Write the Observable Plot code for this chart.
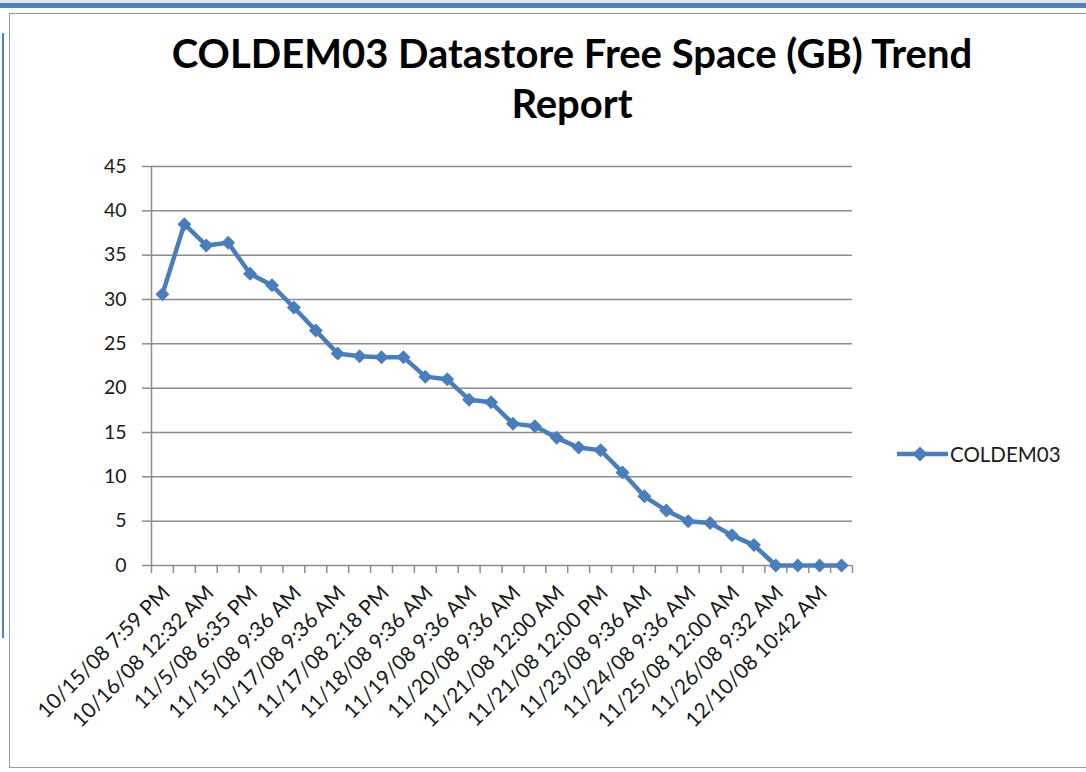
<!DOCTYPE html>
<html><head><meta charset="utf-8">
<script src="https://cdn.jsdelivr.net/npm/d3@7"></script>
<script src="https://cdn.jsdelivr.net/npm/@observablehq/plot@0.6"></script>
<style>
body{margin:0;background:#fff;font-family:Lato,"Open Sans",sans-serif;}
#page{position:relative;width:1086px;height:772px;overflow:hidden;background:#fff;}
#topbar{position:absolute;left:0;top:3px;width:1086px;height:5px;background:#4f81bd;}
#toplight{position:absolute;left:0;top:0;width:1086px;height:3px;background:#dfe6ee;}
#frame{position:absolute;left:9px;top:13px;width:1100px;height:753px;border:1.5px solid #9a9a9a;background:#fff;}
#sel{position:absolute;left:2px;top:33px;width:2px;height:605px;background:#4f81bd;}
#title{position:absolute;left:0;top:28px;width:1144px;text-align:center;font-weight:700;font-size:40px;line-height:50px;color:#000;}
#chart{position:absolute;left:0;top:150px;}
#legend{position:absolute;left:896px;top:441px;display:flex;align-items:center;font-size:20.5px;color:#1a1a1a;}
</style></head>
<body>
<div id="page">
  <div id="toplight"></div>
  <div id="topbar"></div>
  <div id="sel"></div>
  <div id="frame"></div>
  <div id="title">COLDEM03 Datastore Free Space (GB) Trend<br>Report</div>
  <div id="chart"></div>
  <div id="legend"><svg width="54" height="26"><line x1="1" y1="13" x2="52" y2="13" stroke="#4a7ebb" stroke-width="4.5"/><path d="M24 5.5 L31.5 13 L24 20.5 L16.5 13 Z" fill="#4a7ebb"/></svg><span>COLDEM03</span></div>
</div>
<script>
const seriesName = "COLDEM03";
const tickLabels = ["10/15/08 7:59 PM","10/16/08 12:32 AM","11/5/08 6:35 PM","11/15/08 9:36 AM","11/17/08 9:36 AM","11/17/08 2:18 PM","11/18/08 9:36 AM","11/19/08 9:36 AM","11/20/08 9:36 AM","11/21/08 12:00 AM","11/21/08 12:00 PM","11/23/08 9:36 AM","11/24/08 9:36 AM","11/25/08 12:00 AM","11/26/08 9:32 AM","12/10/08 10:42 AM"];
const values = [30.6,38.5,36.1,36.4,32.9,31.6,29.1,26.5,23.9,23.6,23.5,23.5,21.3,21.0,18.7,18.4,16.0,15.7,14.4,13.3,13.0,10.5,7.8,6.2,5.0,4.8,3.4,2.3,0,0,0,0];
const yTicks = [0,5,10,15,20,25,30,35,40,45];

const n = values.length;
const idx = d3.range(n);
const boundaries = d3.range(n + 1).map(i => i - 0.5);
const labelIdx = idx.filter(i => i % 2 === 0);
const data = idx.map(i => ({i, v: values[i]}));
const grid = "#8c8c8c";

const chart = Plot.plot({
  width: 1086, height: 612,
  marginLeft: 151, marginRight: 234, marginTop: 16, marginBottom: 197,
  x: {type: "linear", domain: [-0.5, n - 0.5]},
  y: {domain: [0, 45]},
  style: {fontFamily: "Lato, 'Open Sans', sans-serif", fontSize: "19px", color: "#1a1a1a", background: "transparent"},
  marks: [
    Plot.ruleY(yTicks, {x1: -0.5, x2: n - 0.5, stroke: grid, strokeWidth: 1.5}),
    Plot.ruleX([-0.5], {y1: 0, y2: 45, stroke: grid, strokeWidth: 1.5}),
    Plot.axisY({ticks: yTicks, tickSize: 9, tickPadding: 16, stroke: grid, strokeWidth: 1.5, label: null, fontSize: 19.5}),
    Plot.axisX({ticks: boundaries, tickSize: 8, tickFormat: () => "", label: null, stroke: grid, strokeWidth: 1.5}),
    Plot.axisX({ticks: labelIdx, tickSize: 0, tickPadding: 24, tickRotate: -45, dx: 4, tickFormat: i => tickLabels[i / 2], label: null, fontSize: 21}),
    Plot.line(data, {x: "i", y: "v", stroke: "#4a7ebb", strokeWidth: 4.5}),
    Plot.dot(data, {x: "i", y: "v", symbol: "diamond2", r: 6.3, fill: "#4a7ebb", stroke: "none"})
  ]
});
document.getElementById("chart").appendChild(chart);
</script>
</body></html>
